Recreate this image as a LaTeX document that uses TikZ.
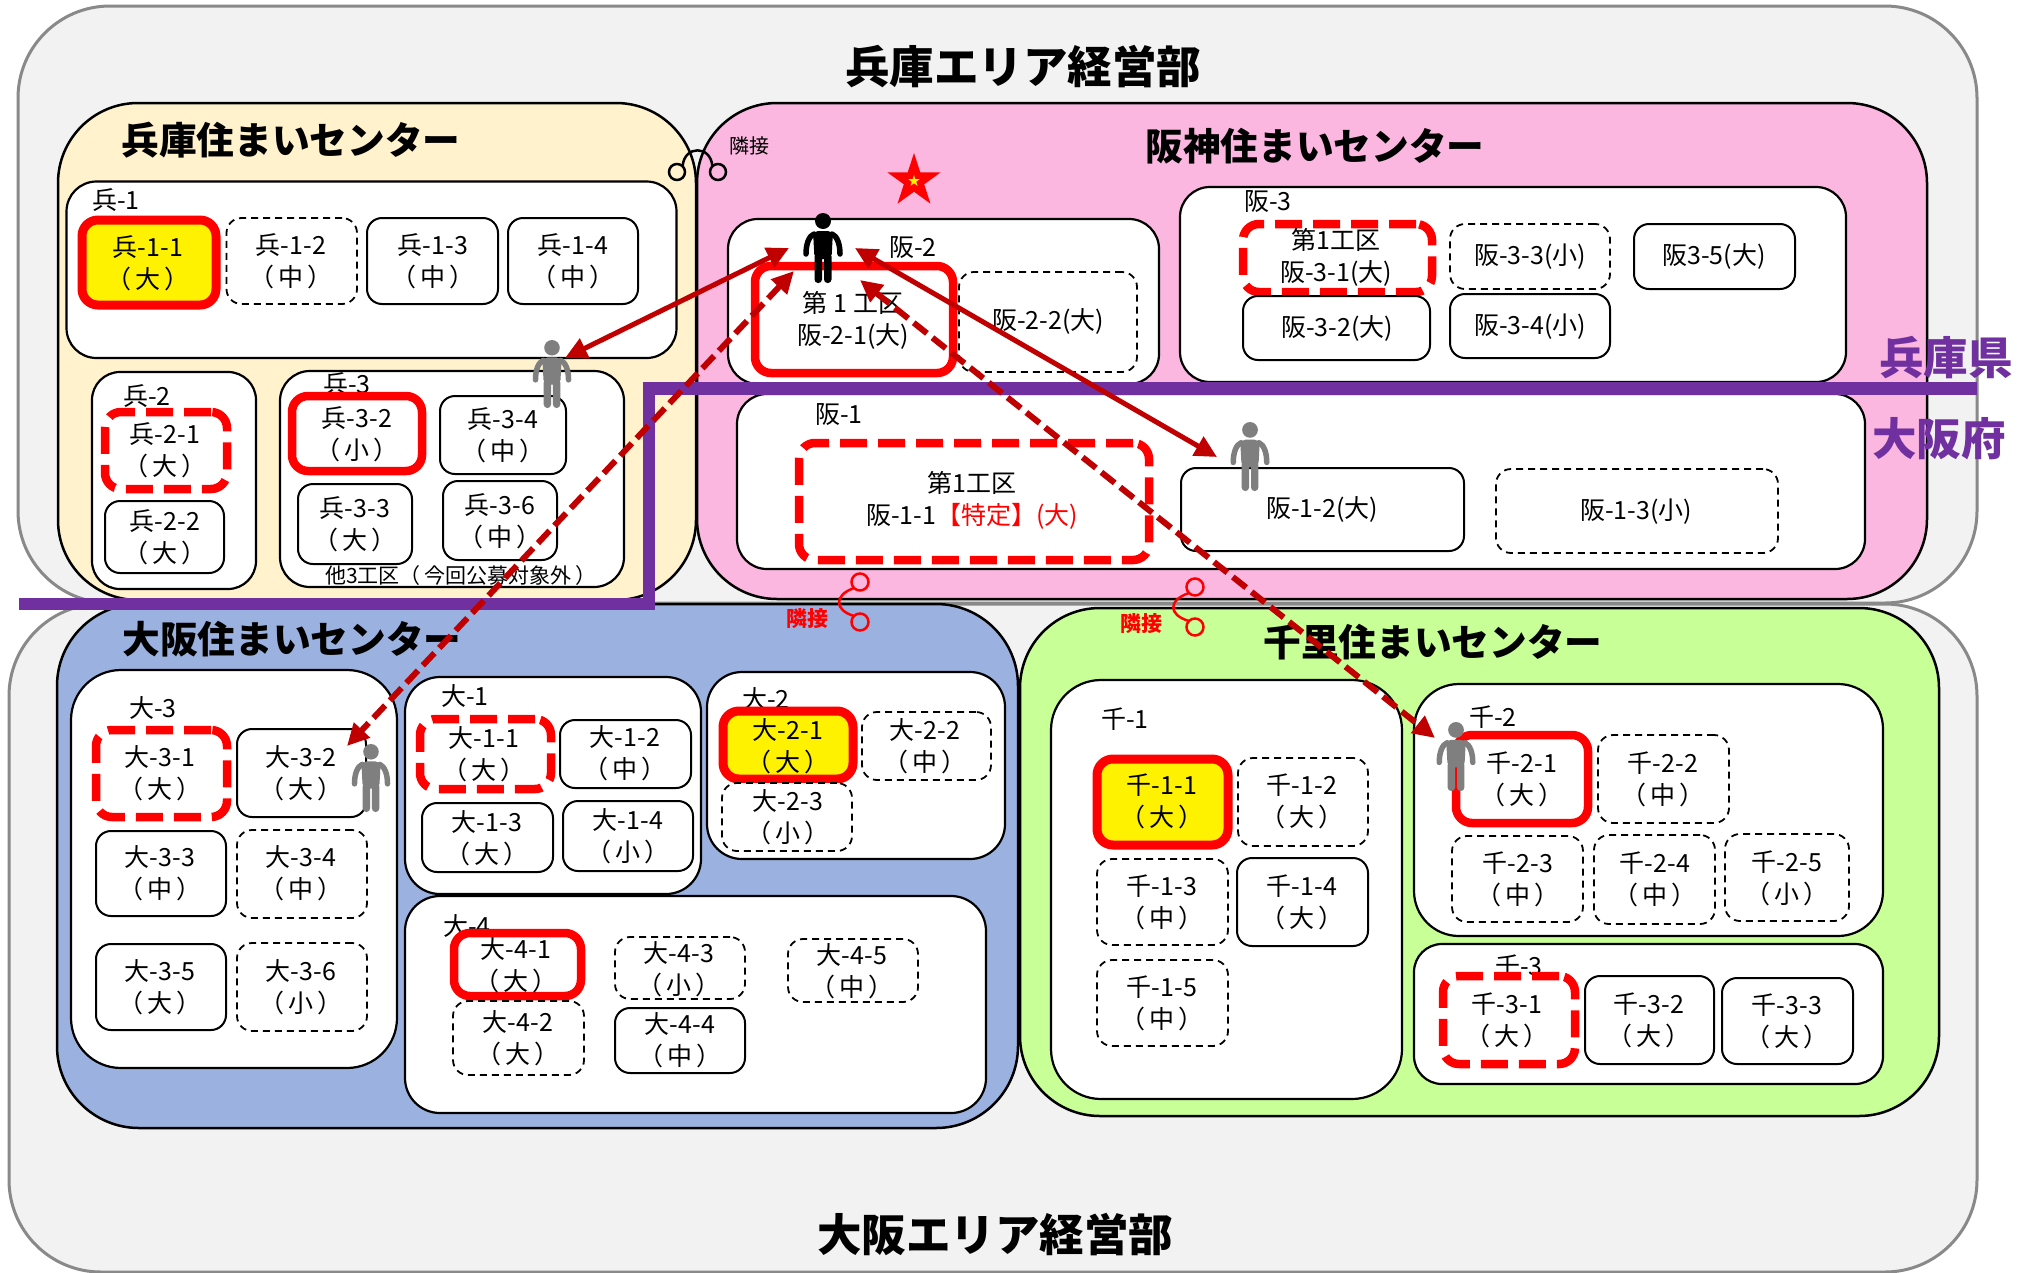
\documentclass[tikz,border=0pt]{standalone}
\usepackage{fontspec}
\setmainfont{Noto Sans CJK JP}
\usetikzlibrary{arrows.meta,shapes.geometric}
\definecolor{outerfill}{HTML}{F2F2F2}
\definecolor{outerline}{HTML}{898989}
\definecolor{creamfill}{HTML}{FFF2CC}
\definecolor{pinkfill}{HTML}{FBB7E0}
\definecolor{bluefill}{HTML}{9BB2E0}
\definecolor{greenfill}{HTML}{C8FF96}
\definecolor{purpleline}{HTML}{7030A0}
\definecolor{darkred}{HTML}{C00000}
\definecolor{persongrey}{HTML}{7F7F7F}
\newcommand{\pk}[1]{（\kern4pt #1\kern4pt）}
\tikzset{
  area/.style={draw=outerline,fill=outerfill,line width=3pt,inner sep=0pt,outer sep=0pt},
  center/.style={draw=black,line width=2.5pt,inner sep=0pt,outer sep=0pt},
  groupbox/.style={draw=black,fill=white,line width=2.2pt,inner sep=0pt,outer sep=0pt},
  solidbox/.style={draw=black,fill=white,line width=2pt,rounded corners=15pt,inner sep=0pt,outer sep=0pt},
  dashbox/.style={draw=black,fill=white,line width=1.8pt,dash pattern=on 7pt off 5pt,rounded corners=15pt,inner sep=0pt,outer sep=0pt},
  redbox/.style={draw=red,fill=white,line width=8.5pt,rounded corners=16pt,inner sep=0pt,outer sep=0pt},
  reddash/.style={draw=red,fill=white,line width=8.5pt,dash pattern=on 27pt off 11pt,rounded corners=16pt,inner sep=0pt,outer sep=0pt},
  yellowbox/.style={draw=red,fill=yellow,line width=9pt,rounded corners=16pt,inner sep=0pt,outer sep=0pt},
  lbl/.style={font=\fontsize{25}{32}\selectfont,align=center,inner sep=0pt,text=black,yshift=-0.3pt},
  small/.style={font=\fontsize{21}{25}\selectfont,align=center,inner sep=0pt,text=black},
  bigtitle/.style={font=\fontsize{44.5}{50}\selectfont\bfseries,inner sep=0pt,text=black},
  midtitle/.style={font=\fontsize{37.7}{42}\selectfont\bfseries,inner sep=0pt,text=black},
  pref/.style={font=\fontsize{44.5}{48}\selectfont\bfseries,inner sep=0pt,text=purpleline},
  adjtext/.style={font=\fontsize{20}{24}\selectfont,inner sep=0pt,text=black},
  adjred/.style={font=\fontsize{21}{24}\selectfont\bfseries,inner sep=0pt,text=red},
  ring/.style={circle,draw=black,line width=2.5pt,minimum size=16pt,inner sep=0pt,outer sep=0pt},
  redring/.style={circle,draw=red,line width=2.5pt,minimum size=17pt,inner sep=0pt,outer sep=0pt},
  solidarrow/.style={draw=darkred,line width=5pt,{Triangle[length=22pt,width=21pt]}-{Triangle[length=22pt,width=21pt]}},
  dasharrow/.style={draw=darkred,line width=6pt,dash pattern=on 17pt off 7pt,{Triangle[length=22pt,width=21pt]}-{Triangle[length=22pt,width=21pt]}}
}
% name, style, x1,y1,x2,y2, tx,ty, text
\newcommand{\bx}[9]{%
  \node[#2,minimum width={#5-#3},minimum height={#6-#4}] (#1) at ({(#3+#5)/2},{(#4+#6)/2}) {};
  \node[lbl] (#1-t) at (#7,#8) {#9};}
% name, x1,y1,x2,y2, radius, lx,ly, label
\newcommand{\grp}[9]{%
  \node[groupbox,rounded corners=#6pt,minimum width={#4-#2},minimum height={#5-#3}] (#1) at ({(#2+#4)/2},{(#3+#5)/2}) {};
  \node[lbl] (#1-t) at (#7,#8) {#9};}
% colour, centre x, top y, height
\newcommand{\figperson}[4]{%
  \begin{scope}[shift={(#2,#3)},scale={#4/70},#1]
    \fill[#1] (0,8) circle[radius=8pt];
    \fill[#1,rounded corners=5pt] (-10,18) -- (10,18) -- (8.5,46) -- (-8.5,46) -- cycle;
    \draw[#1,line width=5.5pt,line cap=round] (-9,21) .. controls (-14,23) and (-17,31) .. (-17,41);
    \draw[#1,line width=5.5pt,line cap=round] (9,21) .. controls (14,23) and (17,31) .. (17,41);
    \fill[#1,rounded corners=3.5pt] (-8.5,40) rectangle (-1,70);
    \fill[#1,rounded corners=3.5pt] (1,40) rectangle (8.5,70);
  \end{scope}}
\begin{document}
\begin{tikzpicture}[x=1pt,y=-1pt]
\useasboundingbox (0,0) rectangle (2024,1272);
% area blocks
\node[area,rounded corners=92pt,minimum width=1968pt,minimum height=668pt] (osakaarea) at (993,938) {};
\node[area,rounded corners=92pt,minimum width=1959pt,minimum height=597pt] (hyogoarea) at (997.5,304.5) {};
% centres
\node[center,fill=creamfill,rounded corners=80pt,minimum width=638pt,minimum height=497pt] (hyogo) at (377,351.5) {};
\node[center,fill=pinkfill,rounded corners=80pt,minimum width=1230pt,minimum height=496pt] (hanshin) at (1312,351) {};
\node[center,fill=bluefill,rounded corners=82pt,minimum width=961pt,minimum height=524pt] (osaka) at (537.5,866) {};
\node[center,fill=greenfill,rounded corners=80pt,minimum width=919pt,minimum height=508pt] (senri) at (1479.5,862) {};
% Hyogo
\grp{h1}{66.5}{181.5}{676.5}{358}{30}{116}{200}{兵-1}
\bx{h11}{yellowbox}{82}{220}{216}{305}{148}{263}{兵-1-1\\\pk{大}}
\bx{h12}{dashbox}{226.5}{218}{357}{304}{291}{261}{兵-1-2\\\pk{中}}
\bx{h13}{solidbox}{367}{218}{498}{304}{433}{261}{兵-1-3\\\pk{中}}
\bx{h14}{solidbox}{508}{218}{638}{304}{573}{261}{兵-1-4\\\pk{中}}
\grp{h2}{92}{372}{256}{589}{28}{147}{396}{兵-2}
\bx{h21}{reddash}{105}{412}{227}{489}{165}{450}{兵-2-1\\\pk{大}}
\bx{h22}{solidbox}{105}{501}{224}{573}{165}{537}{兵-2-2\\\pk{大}}
\grp{h3}{280}{371}{624}{587}{30}{347}{384}{兵-3}
\bx{h32}{redbox}{292}{396}{422}{471}{357}{434}{兵-3-2\\\pk{小}}
\bx{h34}{solidbox}{440}{396}{566}{474}{503}{435}{兵-3-4\\\pk{中}}
\bx{h33}{solidbox}{298}{484}{412}{564}{355}{524}{兵-3-3\\\pk{大}}
\bx{h36}{solidbox}{443}{481}{557}{560}{500}{521}{兵-3-6\\\pk{中}}
\node[small] (h3note) at (461,576) {他3工区\pk{今回公募対象外}};
% Hanshin
\grp{s2}{728}{219}{1159}{384}{30}{913}{247}{阪-2}
\bx{s21}{redbox}{755}{266}{953}{373}{853}{320}{第 1 工区\\阪-2-1(大)}
\bx{s22}{dashbox}{959}{272}{1137}{372}{1048}{321}{阪-2-2(大)}
\grp{s3}{1180}{187}{1846}{382}{30}{1268}{201}{阪-3}
\bx{s31}{reddash}{1243}{224}{1432}{292}{1336}{257}{第1工区\\阪-3-1(大)}
\bx{s33}{dashbox}{1450}{224}{1610}{289}{1530}{256}{阪-3-3(小)}
\bx{s35}{solidbox}{1634}{224}{1795}{289}{1714}{256}{阪3-5(大)}
\bx{s32}{solidbox}{1243}{296}{1430}{360}{1337}{328}{阪-3-2(大)}
\bx{s34}{solidbox}{1450}{294}{1610}{358}{1530}{326}{阪-3-4(小)}
\grp{s1}{737}{394}{1865}{569}{30}{839}{414}{阪-1}
\bx{s11}{reddash}{799}{443}{1149}{560}{972}{500}{第1工区\\阪-1-1{\color{red}【特定】(大)}}
\bx{s12}{solidbox}{1181}{468}{1464}{551}{1322}{509}{阪-1-2(大)}
\bx{s13}{dashbox}{1496}{469}{1778}{553}{1636}{511}{阪-1-3(小)}
% Osaka
\grp{o3}{71}{670}{397}{1068}{50}{153}{708}{大-3}
\bx{o31}{reddash}{96}{730}{227}{817}{160}{773}{大-3-1\\\pk{大}}
\bx{o32}{solidbox}{237}{729}{366}{817}{301}{773}{大-3-2\\\pk{大}}
\bx{o33}{solidbox}{96}{831}{226}{916}{160}{873}{大-3-3\\\pk{中}}
\bx{o34}{dashbox}{237}{830}{367}{918}{301}{873}{大-3-4\\\pk{中}}
\bx{o35}{solidbox}{96}{944}{226}{1030}{160}{987}{大-3-5\\\pk{大}}
\bx{o36}{dashbox}{237}{943}{367}{1031}{301}{987}{大-3-6\\\pk{小}}
\grp{o1}{405}{677}{701}{894}{35}{465}{696}{大-1}
\bx{o11}{reddash}{420}{719}{551}{789}{484}{754}{大-1-1\\\pk{大}}
\bx{o12}{solidbox}{560}{720}{691}{788}{625}{753}{大-1-2\\\pk{中}}
\bx{o13}{solidbox}{422}{803}{553}{872}{487}{838}{大-1-3\\\pk{大}}
\bx{o14}{solidbox}{563}{801}{693}{871}{628}{836}{大-1-4\\\pk{小}}
\grp{o2}{707}{672}{1005}{859}{35}{766}{699}{大-2}
\bx{o21}{yellowbox}{723}{711}{853}{779}{788}{746}{大-2-1\\\pk{大}}
\bx{o22}{dashbox}{862}{712}{991}{780}{925}{746}{大-2-2\\\pk{中}}
\bx{o23}{dashbox}{722}{783}{852}{851}{788}{817}{大-2-3\\\pk{小}}
\grp{o4}{405}{896}{986}{1113}{35}{467}{926}{大-4}
\bx{o41}{redbox}{454}{933}{581}{996}{516}{965}{大-4-1\\\pk{大}}
\bx{o42}{dashbox}{453}{1001}{584}{1075}{518}{1038}{大-4-2\\\pk{大}}
\bx{o43}{dashbox}{615}{937}{745}{999}{679}{969}{大-4-3\\\pk{小}}
\bx{o44}{solidbox}{615}{1008}{745}{1073}{680}{1040}{大-4-4\\\pk{中}}
\bx{o45}{dashbox}{788}{939}{918}{1002}{852}{971}{大-4-5\\\pk{中}}
% Senri
\grp{e1}{1051}{680}{1402}{1099}{50}{1125}{719}{千-1}
\bx{e11}{yellowbox}{1097}{759}{1228}{845}{1162}{801}{千-1-1\\\pk{大}}
\bx{e12}{dashbox}{1238}{758}{1368}{846}{1302}{801}{千-1-2\\\pk{大}}
\bx{e13}{dashbox}{1097}{859}{1228}{945}{1162}{902}{千-1-3\\\pk{中}}
\bx{e14}{solidbox}{1237}{858}{1368}{946}{1302}{902}{千-1-4\\\pk{大}}
\bx{e15}{dashbox}{1097}{960}{1228}{1046}{1162}{1003}{千-1-5\\\pk{中}}
\grp{e2}{1414}{684}{1883}{936}{45}{1493}{717}{千-2}
\bx{e21}{redbox}{1456}{735}{1588}{823}{1522}{779}{千-2-1\\\pk{大}}
\bx{e22}{dashbox}{1598}{735}{1729}{823}{1663}{779}{千-2-2\\\pk{中}}
\bx{e23}{dashbox}{1452}{836}{1583}{922}{1518}{879}{千-2-3\\\pk{中}}
\bx{e24}{dashbox}{1594}{835}{1715}{924}{1655}{879}{千-2-4\\\pk{中}}
\bx{e25}{dashbox}{1725}{834}{1849}{921}{1787}{878}{千-2-5\\\pk{小}}
\grp{e3}{1414}{944}{1883}{1084}{28}{1519}{966}{千-3}
\bx{e31}{reddash}{1443}{976}{1575}{1064}{1507}{1020}{千-3-1\\\pk{大}}
\bx{e32}{solidbox}{1585}{976}{1714}{1064}{1649}{1020}{千-3-2\\\pk{大}}
\bx{e33}{solidbox}{1722}{978}{1853}{1064}{1787}{1021}{千-3-3\\\pk{大}}
% titles
\node[bigtitle] (t1) at (1023,67) {兵庫エリア経営部};
\node[bigtitle] (t2) at (995,1235) {大阪エリア経営部};
\node[midtitle] (t3) at (291,140) {兵庫住まいセンター};
\node[midtitle] (t4) at (1315,146) {阪神住まいセンター};
\node[midtitle] (t5) at (292,639) {大阪住まいセンター};
\node[midtitle] (t6) at (1433,642) {千里住まいセンター};
% prefecture border
\coordinate (bordera) at (19,604);
\coordinate (borderb) at (649,604);
\coordinate (borderc) at (649,388.5);
\coordinate (borderd) at (1977,388.5);
\draw[purpleline,line width=12.5pt,miter limit=10] (bordera) -- (borderb) -- (borderc) -- (borderd);
\node[pref] (p1) at (1946,358) {兵庫県};
\node[pref] (p2) at (1939,439) {大阪府};
% star
\node[star,star points=5,star point ratio=2.618,fill=red,minimum size=56pt,inner sep=0pt] (star1) at (914,181) {};
\node[star,star points=5,star point ratio=2.618,fill=yellow,minimum size=12pt,inner sep=0pt] (star2) at (914,181) {};
% adjacency
\node[ring] (a1) at (677,172) {};
\node[ring] (a2) at (718,172) {};
\draw[black,line width=2.5pt] (a1.north east) .. controls (684,145) and (711,145) .. (a2.north west);
\node[adjtext] (a3) at (749,146) {隣接};
\node[redring] (r1) at (860,582) {};
\node[redring] (r2) at (860,622) {};
\draw[red,line width=2.5pt] (r1.south west) .. controls (834,595) and (834,610) .. (r2.north west);
\node[adjred] (r3) at (807,619) {隣接};
\node[redring] (r4) at (1195,587) {};
\node[redring] (r5) at (1195,627) {};
\draw[red,line width=2.5pt] (r4.south west) .. controls (1168,600) and (1168,615) .. (r5.north west);
\node[adjred] (r6) at (1141,624) {隣接};
% people
\figperson{black}{823}{213}{70}
\figperson{persongrey}{552}{340}{68}
\figperson{persongrey}{1250}{422}{69}
\figperson{persongrey}{371}{744}{68}
\figperson{persongrey}{1456}{722}{69}
% arrows
\coordinate (m1a) at (789,248);
\coordinate (m1b) at (565,358);
\coordinate (m2a) at (855,248);
\coordinate (m2b) at (1217,457);
\coordinate (m3a) at (794,271);
\coordinate (m3b) at (347,746);
\coordinate (m4a) at (860,280);
\coordinate (m4b) at (1435,738);
\draw[solidarrow] (m1a) -- (m1b);
\draw[solidarrow] (m2a) -- (m2b);
\draw[dasharrow] (m3a) -- (m3b);
\draw[dasharrow] (m4a) -- (m4b);
\end{tikzpicture}
\end{document}
